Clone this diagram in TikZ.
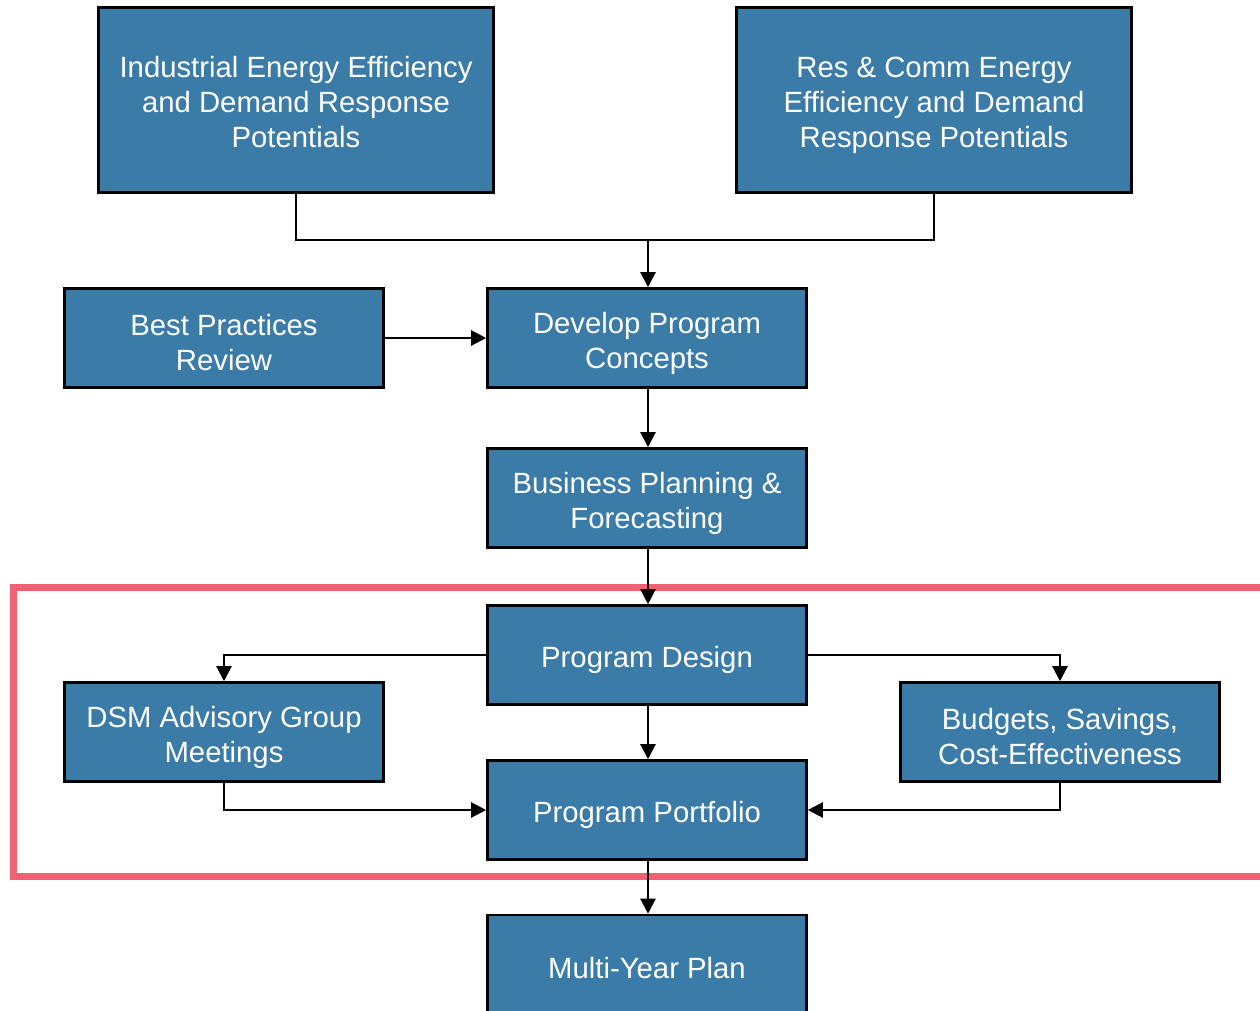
\documentclass[tikz,border=0pt]{standalone}
\usepackage{fontspec}
\setmainfont{Liberation Sans}
\usetikzlibrary{arrows.meta}
\definecolor{boxblue}{RGB}{59,123,168}
\definecolor{focusred}{RGB}{240,98,114}
\begin{document}
\begin{tikzpicture}[x=1pt,y=-1pt,
  stagetext/.style={text=white, inner sep=0pt, align=center, yshift=-5pt,
    font=\fontsize{29.3}{35}\selectfont},
  stagebox/.style={draw=black, line width=2.6pt, fill=boxblue, inner sep=0pt},
  stage/.style={stagebox, label={[stagetext]center:#1}},
  wide/.style={minimum width=395pt, minimum height=185pt},
  std/.style={minimum width=319pt, minimum height=99pt},
  flow/.style={draw=black, line width=2.3pt, -{Triangle[length=15pt,width=15pt]}},
  link/.style={draw=black, line width=2.3pt}]
\clip (0,0) rectangle (1260,1011);
\fill[white] (0,0) rectangle (1260,1011);

% highlighted core of the process
\draw[focusred, line width=7pt] (13,587) rectangle (1290,876);

% stages
\node[wide, stagebox,
  label={[stagetext, yshift=3pt]center:{Industrial Energy Efficiency\\and Demand Response\\Potentials}}]
  (ind) at (296,100) {};
\node[wide, stage={Res \& Comm Energy\\Efficiency and Demand\\Response Potentials}] (res) at (934,100) {};
\node[std, stage={Best Practices\\Review}] (best) at (224,338) {};
\node[std, stage={Develop Program\\Concepts}] (dev) at (647,338) {};
\node[std, stage={Business Planning \&\\Forecasting}] (bus) at (647,498) {};
\node[std, stage={Program Design}] (des) at (647,655) {};
\node[std, stage={DSM Advisory Group\\Meetings}] (dsm) at (224,732) {};
\node[std, stage={Budgets, Savings,\\Cost-Effectiveness}] (bud) at (1060,732) {};
\node[std, stage={Program Portfolio}] (port) at (647,810) {};
\node[minimum width=319pt, minimum height=106pt, stagebox,
  label={[stagetext, yshift=5pt]center:Multi-Year Plan}] (myp) at (647,968) {};

% connectors
\coordinate (join) at (648,240);
\draw[link] (ind.south) |- (join) -| (res.south);
\draw[flow] (join) -- (join |- dev.north);
\draw[flow] (best.east) -- (dev.west);
\draw[flow] ([xshift=1pt]dev.south) -- ([xshift=1pt]bus.north);
\draw[flow] ([xshift=1pt]bus.south) -- ([xshift=1pt]des.north);
\draw[flow] (des.west) -| (dsm.north);
\draw[flow] (des.east) -| (bud.north);
\draw[flow] ([xshift=1pt]des.south) -- ([xshift=1pt]port.north);
\draw[flow] (dsm.south) |- (port.west);
\draw[flow] (bud.south) |- (port.east);
\draw[flow] ([xshift=1pt]port.south) -- ([xshift=1pt]myp.north);
\end{tikzpicture}
\end{document}
